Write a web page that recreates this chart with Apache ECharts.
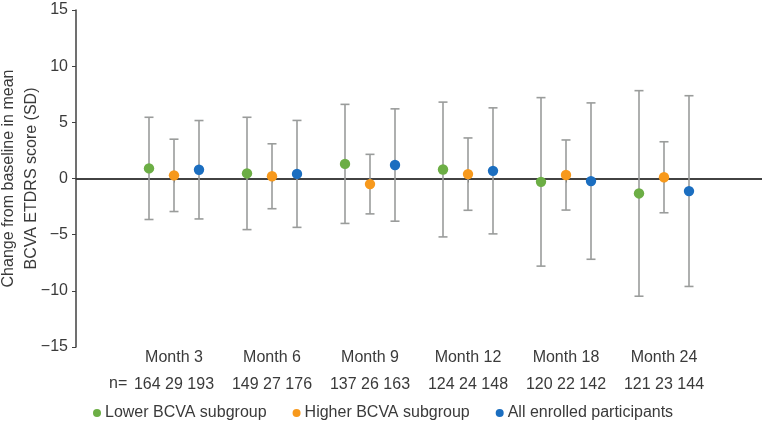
<!DOCTYPE html>
<html><head><meta charset="utf-8">
<script src="https://cdn.jsdelivr.net/npm/echarts@6/dist/echarts.min.js"></script>
<style>html,body{margin:0;padding:0;background:#fff}#c{width:762px;height:423px}</style>
</head><body><div id="c"></div>
<script>
const months = ['Month 3','Month 6','Month 9','Month 12','Month 18','Month 24'];
const nCounts = ['164 29 193','149 27 176','137 26 163','124 24 148','120 22 142','121 23 144'];
const yTicks = [-15,-10,-5,0,5,10,15];
const seriesNames = ['Lower BCVA subgroup','Higher BCVA subgroup','All enrolled participants'];
const lowerMean = [0.9, 0.45, 1.3, 0.8, -0.3, -1.33];
const lowerSD   = [4.55, 5.0, 5.3, 6.0, 7.5, 9.15];
const higherMean = [0.28, 0.2, -0.5, 0.39, 0.31, 0.11];
const higherSD   = [3.22, 2.89, 2.65, 3.22, 3.12, 3.16];
const allMean = [0.78, 0.41, 1.2, 0.68, -0.23, -1.12];
const allSD   = [4.38, 4.76, 5.0, 5.61, 6.96, 8.49];

const colors = ['#6cae45','#f7991c','#1b6ec0'];
const offsets = [-25, 0, 25];
const font = 'Liberation Sans, Arial, sans-serif';
const textColor = '#3a3a3a';

function makeSeries(name, means, sds, color, off, withZero) {
  const s = {
    name: name,
    type: 'custom',
    itemStyle: {color: color},
    data: months.map((m, i) => [i + 1, means[i], sds[i]]),
    renderItem: function (params, api) {
      const idx = api.value(0), mean = api.value(1), sd = api.value(2);
      const p = api.coord([idx, mean]);
      const t = api.coord([idx, mean + sd]);
      const b = api.coord([idx, mean - sd]);
      const x = p[0] + off;
      const ls = {stroke: '#9a9c9b', lineWidth: 1.6};
      return {
        type: 'group',
        children: [
          {type: 'line', shape: {x1: x, y1: t[1], x2: x, y2: b[1]}, style: ls},
          {type: 'line', shape: {x1: x - 4.5, y1: t[1], x2: x + 4.5, y2: t[1]}, style: ls},
          {type: 'line', shape: {x1: x - 4.5, y1: b[1], x2: x + 4.5, y2: b[1]}, style: ls},
          {type: 'circle', shape: {cx: x, cy: p[1], r: 5.2}, style: {fill: color}, z2: 10}
        ]
      };
    },
    z: 3
  };
  if (withZero) {
    s.markLine = {
      silent: true, symbol: 'none', label: {show: false},
      lineStyle: {color: '#333', width: 1.5, type: 'solid'},
      data: [{yAxis: 0}], z: 2
    };
  }
  return s;
}

const chart = echarts.init(document.getElementById('c'), null, {renderer: 'canvas'});
chart.setOption({
  animation: false,
  grid: {left: 76, right: 0, top: 10, bottom: 76, containLabel: false, outerBoundsMode: 'none'},
  legend: {
    left: 88, top: 400, icon: 'circle', itemWidth: 8, itemHeight: 8, itemGap: 26,
    textStyle: {fontFamily: font, fontSize: 16, color: textColor, padding: [0, 0, 0, -1]},
    data: seriesNames
  },
  graphic: [{
    type: 'text', left: 109, top: 376,
    style: {text: 'n=', font: '16px ' + font, fill: textColor}
  }],
  xAxis: {
    type: 'value', min: 0, max: 7,
    axisLine: {lineStyle: {color: '#404040', width: 1.5}},
    axisTick: {show: true, customValues: [1,2,3,4,5,6], length: 4, lineStyle: {color: '#404040'}},
    axisLabel: {
      customValues: [1,2,3,4,5,6], margin: 1,
      formatter: function (v) { const i = Math.round(v) - 1; return '{a|' + months[i] + '}\n{b|' + nCounts[i] + '}'; },
      rich: {
        a: {fontFamily: font, fontSize: 16, color: textColor, lineHeight: 20},
        b: {fontFamily: font, fontSize: 16, color: textColor, lineHeight: 34}
      }
    },
    splitLine: {show: false}
  },
  yAxis: {
    type: 'value', min: yTicks[0], max: yTicks[yTicks.length - 1], interval: 5,
    name: 'Change from baseline in mean\nBCVA ETDRS score (SD)',
    nameLocation: 'middle', nameGap: 33, nameMoveOverlap: false,
    nameTextStyle: {fontFamily: font, fontSize: 16, color: textColor, lineHeight: 23},
    axisLine: {show: true, lineStyle: {color: '#404040', width: 1.5}},
    axisTick: {show: true, length: 4, lineStyle: {color: '#404040'}},
    axisLabel: {fontFamily: font, fontSize: 16, color: textColor, margin: 8,
      formatter: function (v) { return v < 0 ? '\u2212' + Math.abs(v) : String(v); }},
    splitLine: {show: false}
  },
  series: [
    makeSeries(seriesNames[0], lowerMean, lowerSD, colors[0], offsets[0], true),
    makeSeries(seriesNames[1], higherMean, higherSD, colors[1], offsets[1], false),
    makeSeries(seriesNames[2], allMean, allSD, colors[2], offsets[2], false)
  ]
});
</script></body></html>
